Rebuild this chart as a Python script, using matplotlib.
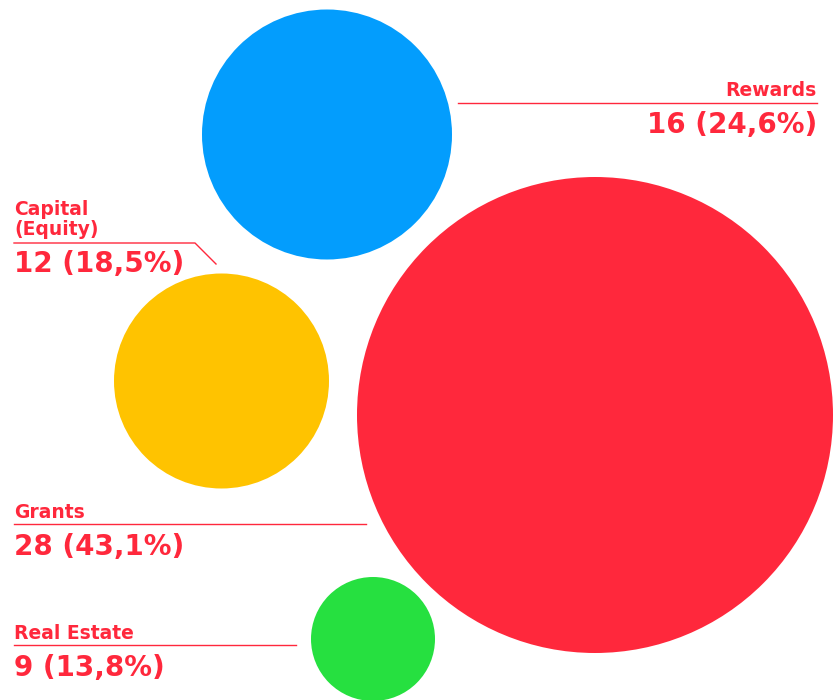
import matplotlib.pyplot as plt
from matplotlib.patches import Circle

# dados
categorias = ['Grants', 'Rewards', 'Capital\n(Equity)', 'Real Estate']
valores = [28, 16, 12, 9]
cores = ['#FF283C', '#039DFD', '#FFC300', '#26E040']

total = sum(valores)
percentuais = [v / total * 100 for v in valores]

# layout das bolhas (pixels, origem no topo)
centros = [(595, 415), (327, 134.5), (221.5, 381), (373, 639)]
raios = [238, 125, 107.5, 62]

VERMELHO = '#FF283C'

fig = plt.figure(figsize=(8.37, 7), dpi=100)
ax = fig.add_axes([0, 0, 1, 1])
ax.set_xlim(0, 837)
ax.set_ylim(700, 0)
ax.set_aspect('equal')
ax.axis('off')

for (cx, cy), r, c in zip(centros, raios, cores):
    ax.add_patch(Circle((cx, cy), r, color=c, lw=0))


def rotulo(i):
    return '{} ({}%)'.format(valores[i], f'{percentuais[i]:.1f}'.replace('.', ','))


fonte = 'DejaVu Sans'
tam_nome = 13.5
tam_valor = 20

# Grants
ax.text(14, 518, categorias[0], color=VERMELHO, fontsize=tam_nome, fontweight='bold',
        family=fonte, va='baseline', ha='left')
ax.plot([14, 366], [524, 524], color=VERMELHO, lw=1)
ax.text(14, 555, rotulo(0), color=VERMELHO, fontsize=tam_valor, fontweight='bold',
        family=fonte, va='baseline', ha='left')

# Rewards
ax.text(817, 96, categorias[1], color=VERMELHO, fontsize=tam_nome, fontweight='bold',
        family=fonte, va='baseline', ha='right')
ax.plot([458, 817], [103, 103], color=VERMELHO, lw=1)
ax.text(817, 133, rotulo(1), color=VERMELHO, fontsize=tam_valor, fontweight='bold',
        family=fonte, va='baseline', ha='right')

# Capital (Equity)
nome1, nome2 = categorias[2].split('\n')
ax.text(14, 215, nome1, color=VERMELHO, fontsize=tam_nome, fontweight='bold',
        family=fonte, va='baseline', ha='left')
ax.text(14, 235, nome2, color=VERMELHO, fontsize=tam_nome, fontweight='bold',
        family=fonte, va='baseline', ha='left')
ax.plot([14, 195, 216], [243, 243, 264], color=VERMELHO, lw=1)
ax.text(14, 272, rotulo(2), color=VERMELHO, fontsize=tam_valor, fontweight='bold',
        family=fonte, va='baseline', ha='left')

# Real Estate
ax.text(14, 639, categorias[3], color=VERMELHO, fontsize=tam_nome, fontweight='bold',
        family=fonte, va='baseline', ha='left')
ax.plot([14, 296], [645, 645], color=VERMELHO, lw=1)
ax.text(14, 676, rotulo(3), color=VERMELHO, fontsize=tam_valor, fontweight='bold',
        family=fonte, va='baseline', ha='left')

fig.savefig('out.png', dpi=100)
